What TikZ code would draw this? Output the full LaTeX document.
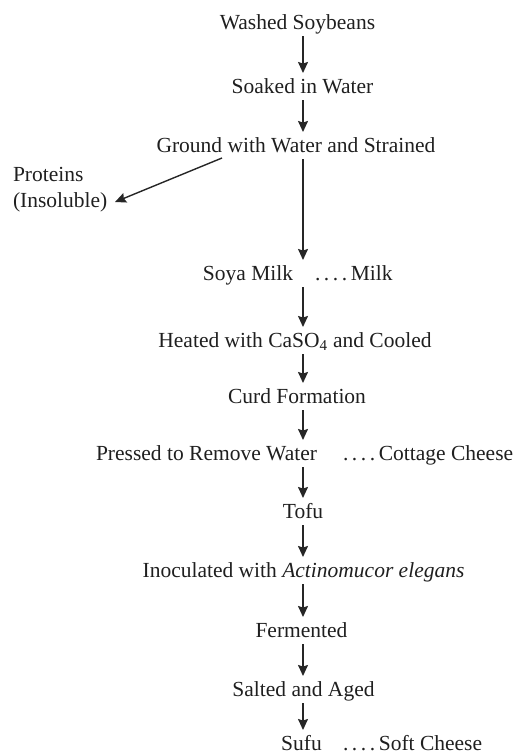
\documentclass[tikz,border=0pt]{standalone}
\usepackage{fontspec}
\setmainfont{Liberation Serif}
\usetikzlibrary{arrows.meta,calc}
\begin{document}
\begin{tikzpicture}[x=1pt,y=-1pt,
  every node/.style={inner sep=0pt,outer sep=0pt,font=\fontsize{21.5}{26}\selectfont,text=black!88},
  stage/.style={anchor=base,text height=15pt,text depth=5pt},
  side/.style={anchor=base west},
  arr/.style={line width=1.4pt,draw=black!85,-{Stealth[length=11pt,width=10pt,inset=1.5pt]},shorten <=2pt,shorten >=5pt}]
\useasboundingbox (0,0) rectangle (518,755);
\coordinate (axis) at (303,0);
\node[stage] (ws) at (297.5,29) {Washed Soybeans};
\node[stage] (sw) at (302.5,93) {Soaked in Water};
\node[stage] (gr) at (296,152) {Ground with Water and Strained};
\node[side,align=left] (prot) at (13,207) {Proteins\\(Insoluble)};
\node[stage] (sm) at (248,280) {Soya Milk};
\node[side] (smd) at (315,280) {.\,.\,.\,.\,Milk};
\node[stage] (he) at (295,347) {Heated with CaSO\textsubscript{4} and Cooled};
\node[stage] (cf) at (297,403) {Curd Formation};
\node[stage] (pr) at (206.5,460) {Pressed to Remove Water};
\node[side] (prd) at (343,460) {.\,.\,.\,.\,Cottage Cheese};
\node[stage] (tf) at (303,518) {Tofu};
\node[stage] (in) at (303.5,577) {Inoculated with \textit{Actinomucor elegans}};
\node[stage] (fe) at (301.5,637) {Fermented};
\node[stage] (sa) at (303.5,696) {Salted and Aged};
\node[stage] (su) at (301.5,750) {Sufu};
\node[side] (sud) at (343,750) {.\,.\,.\,.\,Soft Cheese};
\foreach \a/\b in {ws/sw,sw/gr,gr/sm,sm/he,he/cf,cf/pr,pr/tf,tf/in,in/fe,fe/sa,sa/su}
  \draw[arr] (\a.south -| axis) -- (\b.north -| axis);
\draw[arr,shorten <=0pt,shorten >=0pt] ($(gr.south)+(-74,1)$) -- ($(prot.base west)+(102,-5)$);
\end{tikzpicture}
\end{document}
